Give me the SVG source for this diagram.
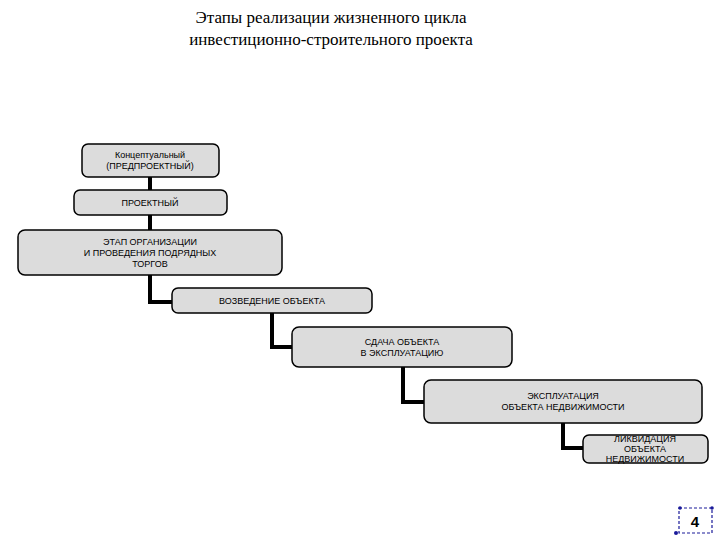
<svg xmlns="http://www.w3.org/2000/svg" width="720" height="540" viewBox="0 0 720 540">
<style>
.box{fill:#dcdcdc;stroke:#000;stroke-width:1.5}
.t{font-family:"Liberation Sans",Arial,sans-serif;font-size:9px;fill:#000;text-anchor:middle}
.title{font-family:"Liberation Serif","Times New Roman",serif;font-size:17px;fill:#000;text-anchor:middle}
.c{fill:none;stroke:#000;stroke-width:4}
</style>
<rect width="720" height="540" fill="#fff"/>
<text class="title" x="331" y="23">Этапы реализации жизненного цикла</text>
<text class="title" x="331" y="45">инвестиционно-строительного проекта</text>
<g id="connectors">
<path class="c" d="M150 177V190M150 215V230M150 275V302H172"/>
<path class="c" d="M272 313V347H292"/>
<path class="c" d="M403 367V402H424"/>
<path class="c" d="M563 423V448H583"/>
</g>
<g id="n1"><rect class="box" x="82" y="144" width="137" height="33" rx="6"/>
<text class="t" x="150" y="158">Концептуальный</text><text class="t" x="150" y="169">(ПРЕДПРОЕКТНЫЙ)</text></g>
<g id="n2"><rect class="box" x="74" y="190" width="153" height="25" rx="6"/>
<text class="t" x="150" y="206">ПРОЕКТНЫЙ</text></g>
<g id="n3"><rect class="box" x="18" y="230" width="264" height="45" rx="7"/>
<text class="t" x="150" y="245">ЭТАП ОРГАНИЗАЦИИ</text><text class="t" x="150" y="256">И ПРОВЕДЕНИЯ ПОДРЯДНЫХ</text><text class="t" x="150" y="267">ТОРГОВ</text></g>
<g id="n4"><rect class="box" x="172" y="288" width="200" height="25" rx="6"/>
<text class="t" x="272" y="304">ВОЗВЕДЕНИЕ ОБЪЕКТА</text></g>
<g id="n5"><rect class="box" x="292" y="327" width="220" height="40" rx="7"/>
<text class="t" x="402" y="345">СДАЧА ОБЪЕКТА</text><text class="t" x="402" y="356">В ЭКСПЛУАТАЦИЮ</text></g>
<g id="n6"><rect class="box" x="424" y="380" width="278" height="43" rx="7"/>
<text class="t" x="563" y="399">ЭКСПЛУАТАЦИЯ</text><text class="t" x="563" y="410">ОБЪЕКТА НЕДВИЖИМОСТИ</text></g>
<g id="n7"><rect class="box" x="583" y="435" width="125" height="28" rx="6"/>
<text class="t" x="645" y="442">ЛИКВИДАЦИЯ</text><text class="t" x="645" y="452">ОБЪЕКТА</text><text class="t" x="645" y="462">НЕДВИЖИМОСТИ</text></g>
<g id="page">
<rect x="679" y="508" width="33" height="25" fill="#fff" stroke="#1a1a9a" stroke-width="1.2" stroke-dasharray="3 2"/>
<circle cx="680" cy="508" r="1.8" fill="#1a1a9a"/><circle cx="712" cy="508" r="1.8" fill="#1a1a9a"/><circle cx="676" cy="533" r="2" fill="#1a1a9a"/>
<text x="695" y="527" font-family="'Liberation Sans',Arial,sans-serif" font-size="15" font-weight="bold" text-anchor="middle">4</text>
</g>
</svg>
